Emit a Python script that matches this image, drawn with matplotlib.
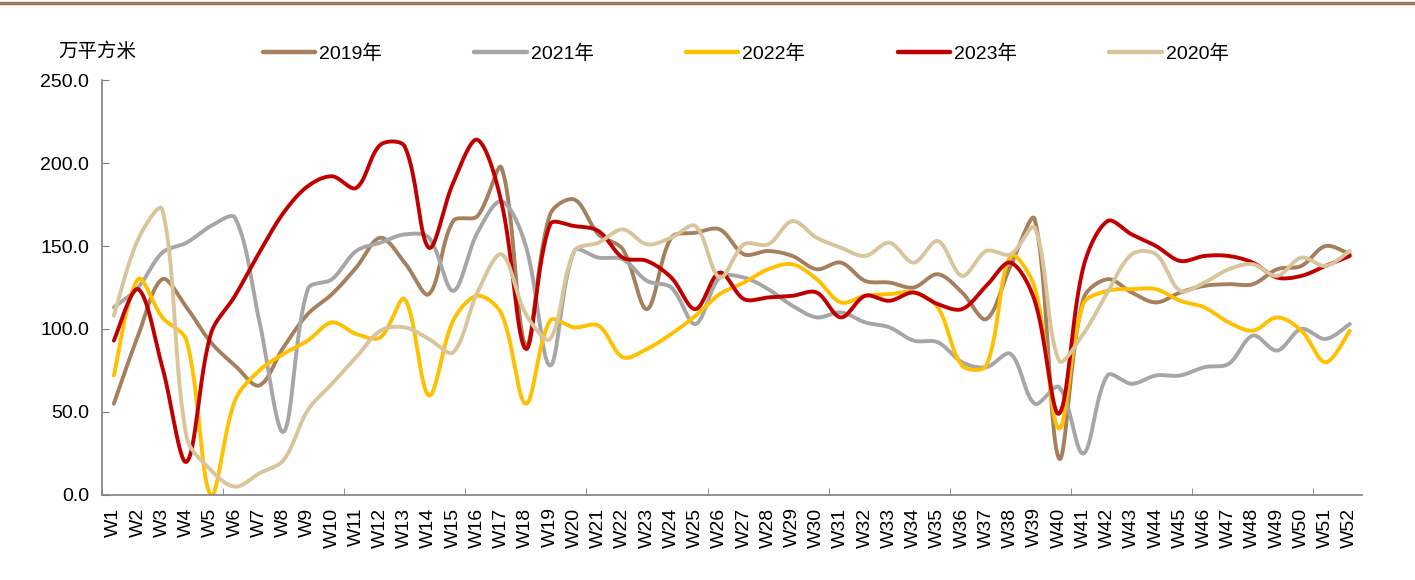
import numpy as np
import matplotlib.pyplot as plt
from matplotlib.lines import Line2D

plt.rcParams['font.family'] = ['Liberation Sans', 'Noto Sans CJK SC', 'DejaVu Sans']

weeks = ['W%d' % i for i in range(1, 53)]

y2019 = [55, 96, 130, 113, 92, 78, 66, 89, 109, 121, 137, 155, 140, 121,
         165, 168, 197, 90, 169, 178, 157, 148, 112, 155, 158, 160,
         145, 147, 144, 136, 140, 129, 128, 125, 133, 122, 106, 138, 166,
         22, 118, 130, 122, 116, 122, 126, 127, 127, 136, 138, 150, 145]
y2021 = [113, 125, 146, 152, 162, 167, 105, 38, 124, 130, 147, 152, 157, 155,
         123, 158, 177, 150, 78, 147, 143, 142, 129, 125, 103, 131,
         131, 124, 114, 107, 110, 104, 101, 93, 92, 80, 77, 85, 55,
         65, 25, 72, 67, 72, 72, 77, 79, 96, 87, 100, 94, 103]
y2022 = [72, 130, 107, 93, 0, 57, 75, 85, 93, 104, 97, 95, 118, 60,
         105, 120, 109, 55, 105, 101, 102, 83, 88, 97, 108, 121,
         128, 136, 139, 130, 116, 120, 121, 122, 113, 78, 78, 144, 125,
         40, 115, 123, 124, 124, 117, 113, 104, 99, 107, 99, 80, 99]
y2023 = [93, 124, 77, 20, 97, 120, 146, 170, 186, 192, 185, 211, 210, 149,
         188, 214, 176, 88, 163, 162, 159, 143, 141, 131, 112, 134,
         118, 119, 120, 122, 107, 120, 117, 122, 115, 112, 126, 140, 117,
         49, 137, 165, 157, 150, 141, 144, 144, 140, 131, 132, 138, 144]
y2020 = [108, 154, 172, 35, 15, 5, 13, 21, 51, 67, 83, 99, 101, 94,
         86, 122, 145, 109, 94, 147, 152, 160, 151, 155, 162, 131,
         151, 151, 165, 155, 149, 144, 152, 140, 153, 132, 147, 145, 161,
         81, 97, 122, 145, 145, 123, 128, 136, 139, 132, 143, 138, 147]

series = [('2019年', y2019, '#A67F5D'),
          ('2021年', y2021, '#A6A6A6'),
          ('2022年', y2022, '#FFC000'),
          ('2023年', y2023, '#C00000'),
          ('2020年', y2020, '#D8C59C')]


def smooth(vals, n=30, sx=24.24, sy=1.66):
    # smoothed line like excel: bezier segments, control arms weighted by
    # neighbouring segment lengths (in screen units) so peaks overshoot less
    v = np.asarray(vals, float)
    p = np.column_stack([np.arange(len(v)) * sx, v * sy])
    m = len(p)
    cout = np.zeros_like(p)
    cin = np.zeros_like(p)
    for i in range(m):
        if i == 0:
            cout[i] = p[0] + (p[1] - p[0]) / 6
            continue
        if i == m - 1:
            cin[i] = p[-1] - (p[-1] - p[-2]) / 6
            continue
        tg = p[i + 1] - p[i - 1]
        dp = np.hypot(*(p[i] - p[i - 1]))
        dn = np.hypot(*(p[i + 1] - p[i]))
        cout[i] = p[i] + tg * dn / (dp + dn) / 3
        cin[i] = p[i] - tg * dp / (dp + dn) / 3
    t = np.linspace(0, 1, n)[:, None]
    out = []
    for i in range(m - 1):
        seg = ((1 - t) ** 3) * p[i] + 3 * ((1 - t) ** 2) * t * cout[i] \
            + 3 * (1 - t) * t ** 2 * cin[i + 1] + t ** 3 * p[i + 1]
        out.append(seg if i == 0 else seg[1:])
    out = np.vstack(out)
    return out[:, 0] / sx, out[:, 1] / sy


fig = plt.figure(figsize=(14.15, 5.8), dpi=100)
ax = fig.add_axes([0.0719, 0.1466, 0.8906, 0.7154])

handles = []
for name, vals, col in series:
    xs, ys = smooth(vals)
    ax.plot(xs, ys, color=col, lw=2.8, solid_capstyle='round')
    handles.append(Line2D([], [], color=col, lw=3.2, label=name, solid_capstyle='round'))

ax.set_xlim(-0.5, 51.5)
ax.set_ylim(0, 250)
ax.set_yticks(np.arange(0, 251, 50))
ax.set_yticklabels(['%.1f' % v for v in np.arange(0, 251, 50)])
ax.set_xticks(np.arange(52))
ax.set_xticklabels(weeks, rotation=90)
ax.set_xticks(np.arange(-0.5, 51, 5), minor=True)

ax.tick_params(axis='x', which='major', length=0, pad=9, labelsize=14)
ax.tick_params(axis='x', which='minor', direction='in', length=5, color='#7F7F7F')
ax.tick_params(axis='y', direction='in', length=5, color='#7F7F7F', pad=9, labelsize=14)

for s in ['top', 'right']:
    ax.spines[s].set_visible(False)
for s in ['left', 'bottom']:
    ax.spines[s].set_color('#7F7F7F')
    ax.spines[s].set_linewidth(1.2)

fig.legend(handles=handles, loc='center', bbox_to_anchor=(0.527, 0.907), ncol=5,
           frameon=False, fontsize=14, handlelength=2.7, handletextpad=0.2,
           columnspacing=4.75)

fig.text(0.069, 0.912, '万平方米', ha='center', va='center', fontsize=14,
         family=['Noto Sans CJK SC'], weight='light')

fig.add_artist(Line2D([0, 1], [0.995, 0.995], color='#A0785A', lw=2.5,
                      transform=fig.transFigure))

fig.savefig('out.png', dpi=100)
